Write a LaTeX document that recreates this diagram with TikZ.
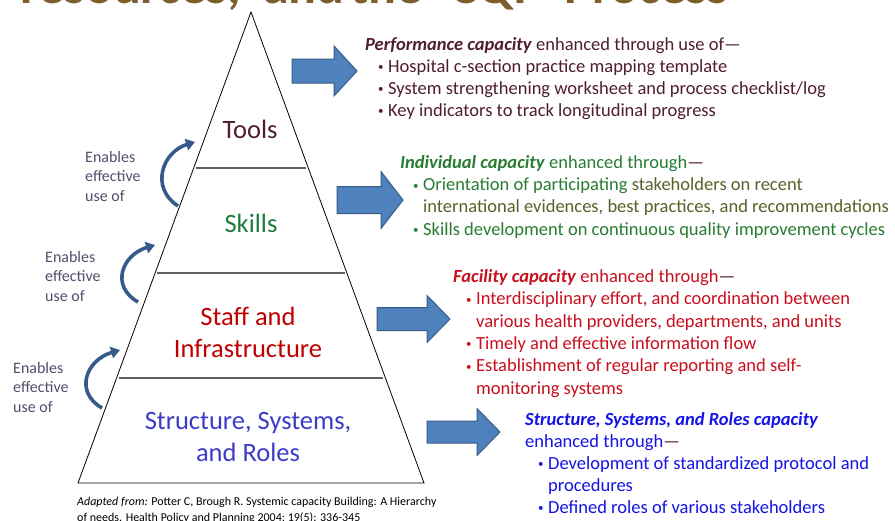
\documentclass[tikz,border=0pt]{standalone}
\usepackage{fontspec}
\setmainfont{Carlito}
\usetikzlibrary{calc,arrows.meta}
\definecolor{titlebrown}{RGB}{125,94,45}
\definecolor{toolsc}{RGB}{80,30,45}
\definecolor{perfc}{RGB}{80,30,45}
\definecolor{skillc}{RGB}{30,125,60}
\definecolor{indc}{RGB}{40,125,50}
\definecolor{olivec}{RGB}{85,100,40}
\definecolor{staffc}{RGB}{192,0,0}
\definecolor{facc}{RGB}{200,16,30}
\definecolor{structc}{RGB}{60,60,200}
\definecolor{ssrc}{RGB}{20,20,230}
\definecolor{arrowfill}{RGB}{79,129,189}
\definecolor{arrowedge}{RGB}{56,93,138}
\definecolor{curvec}{RGB}{55,90,140}
\definecolor{enablec}{RGB}{80,80,110}
\definecolor{divc}{RGB}{95,95,95}
\newcommand\bul[1]{\hspace*{13pt}\makebox[10pt][l]{\raisebox{1.5pt}{\fontsize{11}{11}\selectfont\textbullet}}#1}
\newcommand\cont[1]{\hspace*{23pt}#1}
\newcommand\blockarr[6]{% xl, xb, xt, yc, half body, half head
  \draw[blockarrow] (#1,#4-#5) -- (#2,#4-#5) -- (#2,#4-#6) -- (#3,#4) -- (#2,#4+#6) -- (#2,#4+#5) -- (#1,#4+#5) -- cycle;}
\tikzset{
  titlefont/.style={inner sep=0pt, text=titlebrown, font=\fontsize{52}{52}\selectfont\bfseries},
  pyr/.style={draw=black, line width=0.8pt},
  divider/.style={draw=divc, line width=1.3pt},
  lbl/.style={inner sep=0pt, align=center, font=\fontsize{26.5}{32}\selectfont},
  blockarrow/.style={fill=arrowfill, draw=arrowedge, line width=1pt},
  curv/.style={draw=curvec, line width=3.6pt, -{Triangle[length=9pt,width=11.5pt]}},
  enab/.style={inner sep=0pt, anchor=west, align=left, text=enablec, font=\fontsize{16}{19.5}\selectfont},
  rtext/.style={inner sep=0pt, anchor=north west, align=left},
  cite/.style={inner sep=0pt, anchor=north west, align=left, font=\fontsize{12}{16}\selectfont}
}
\begin{document}
\begin{tikzpicture}[x=1pt,y=-1pt]
\useasboundingbox (0,0) rectangle (895,520);
\clip (0,0) rectangle (895,520);
\fill[white] (0,0) rectangle (895,520);

% title (cut off at the top)
\node[titlefont, anchor=base east] (title1) at (241,3) {resources,};
\node[titlefont, anchor=base west] (title2) at (263,3) {and};
\node[titlefont, anchor=base west] (title3) at (350,3) {the};
\node[titlefont, anchor=base west] (title4) at (450,3) {CQI};
\node[titlefont, anchor=base east] (title5) at (728,3) {Process};

% pyramid
\coordinate (apex) at (251,12);
\coordinate (bl) at (78,483);
\coordinate (br) at (424,483);
\draw[pyr] (apex) -- (bl) -- (br) -- cycle;
\foreach \yy in {168,273,378}{
  \draw[divider] ($(apex)!{(\yy-12)/471}!(bl)+(2,0)$) -- ($(apex)!{(\yy-12)/471}!(br)+(-2,0)$);
}

\node[lbl, text=toolsc] (tools) at (250,129) {Tools};
\node[lbl, text=skillc] (skills) at (251,223) {Skills};
\node[lbl, text=staffc] (staff) at (248,332) {Staff and\\Infrastructure};
\node[lbl, text=structc] (struct) at (248,437) {Structure, Systems,\\and Roles};

% curved arrows
\coordinate (ca1) at (178,206); \coordinate (ca2) at (195,142);
\draw[curv] (ca1) .. controls (150,188) and (162,152) .. (ca2);
\coordinate (cb1) at (138,302); \coordinate (cb2) at (155,245);
\draw[curv] (cb1) .. controls (110,286) and (122,255) .. (cb2);
\coordinate (cc1) at (102,408); \coordinate (cc2) at (120,350);
\draw[curv] (cc1) .. controls (74,392) and (86,360) .. (cc2);

\node[enab] (en1) at (85,176) {Enables\\effective\\use of};
\node[enab] (en2) at (45,276) {Enables\\effective\\use of};
\node[enab] (en3) at (13,387) {Enables\\effective\\use of};

% block arrows
\blockarr{292}{334}{357}{71}{12}{25}
\blockarr{337}{381}{403}{200}{13.5}{28.5}
\blockarr{377}{427}{450}{319}{11.5}{23.5}
\blockarr{427}{477}{500}{432}{11}{23.5}

% right texts
\node[rtext, text=perfc, font=\fontsize{18.5}{22}\selectfont] (perf) at (365,35) {%
\rule{0pt}{15pt}\textbf{\textit{Performance capacity}} enhanced through use of—\\
\bul{Hospital c-section practice mapping template}\\
\bul{System strengthening worksheet and process checklist/log}\\
\bul{Key indicators to track longitudinal progress}};

\node[rtext, text=indc, font=\fontsize{18.5}{22.3}\selectfont] (indiv) at (400,153) {%
\rule{0pt}{15pt}\textbf{\textit{Individual capacity}} enhanced through\textcolor{perfc}{—}\\
\bul{Orientation of participating \textcolor{olivec}{stakeholders on recent}}\\
\cont{\textcolor{olivec}{international evidences, best practices, and recommendations}}\\
\bul{Skills development on continuous quality improvement cycles}};

\node[rtext, text=facc, font=\fontsize{18.5}{22.4}\selectfont] (facil) at (453,267) {%
\rule{0pt}{15pt}\textbf{\textit{Facility capacity}} enhanced through\textcolor{perfc}{—}\\
\bul{Interdisciplinary effort, and coordination between}\\
\cont{various health providers, departments, and units}\\
\bul{Timely and effective information flow}\\
\bul{Establishment of regular reporting and self-}\\
\cont{monitoring systems}};

\node[rtext, text=ssrc, font=\fontsize{18.5}{22}\selectfont] (ssr) at (525,410) {%
\rule{0pt}{15pt}\textbf{\textit{Structure, Systems, and Roles capacity}}\\
enhanced through\textcolor{perfc}{—}\\
\bul{Development of standardized protocol and}\\
\cont{procedures}\\
\bul{Defined roles of various stakeholders}};

% citation
\node[cite] (cite) at (77,495) {%
\rule{0pt}{10pt}\textit{Adapted from:} Potter C, Brough R. Systemic capacity Building: A Hierarchy\\
of needs. Health Policy and Planning 2004; 19(5): 336-345};
\end{tikzpicture}
\end{document}
